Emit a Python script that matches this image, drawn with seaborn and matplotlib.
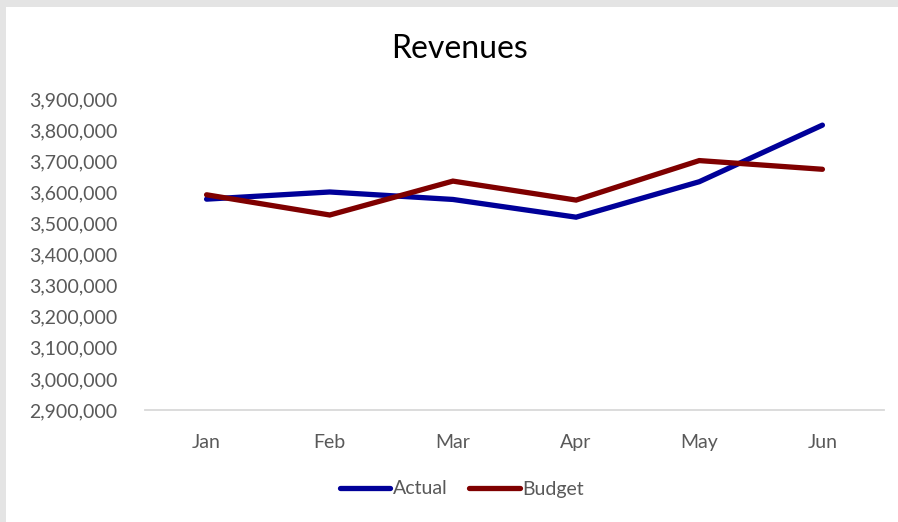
import matplotlib
matplotlib.use("Agg")
import matplotlib.pyplot as plt
from matplotlib.patches import Rectangle
from matplotlib.ticker import FuncFormatter, MultipleLocator
import seaborn as sns
import pandas as pd

months = ["Jan", "Feb", "Mar", "Apr", "May", "Jun"]
actual = [3578000, 3601000, 3577000, 3520000, 3634000, 3816000]
budget = [3592000, 3527000, 3636000, 3575000, 3702000, 3674000]

df = pd.DataFrame({
    "Month": months * 2,
    "Revenue": actual + budget,
    "Series": ["Actual"] * len(months) + ["Budget"] * len(months),
})

sns.set_theme(style="white")
plt.rcParams["font.family"] = ["Lato", "DejaVu Sans"]

fig = plt.figure(figsize=(8.98, 5.22), dpi=100)
fig.patch.set_facecolor("white")
W, H = 898, 522
# grey window frame along the top and left edges
fig.patches.append(Rectangle((0, 1 - 7 / H), 1, 7 / H, transform=fig.transFigure,
                             facecolor="#E4E4E4", edgecolor="none", zorder=0))
fig.patches.append(Rectangle((0, 0), 6 / W, 1, transform=fig.transFigure,
                             facecolor="#E4E4E4", edgecolor="none", zorder=0))

ax = fig.add_axes([145 / W, 1 - 410 / H, (884 - 145) / W, (410 - 99) / H])
palette = {"Actual": "#000099", "Budget": "#7F0000"}
sns.lineplot(data=df, x="Month", y="Revenue", hue="Series", palette=palette,
             linewidth=3.8, sort=False, ax=ax, legend=True)
for line in ax.get_lines():
    line.set_solid_capstyle("round")
    line.set_solid_joinstyle("miter")

ax.set_xlim(-0.5, len(months) - 0.5)
ax.set_ylim(2900000, 3900000)
ax.yaxis.set_major_locator(MultipleLocator(100000))
ax.yaxis.set_major_formatter(FuncFormatter(lambda v, p: f"{v:,.0f}"))
ax.set_xlabel("")
ax.set_ylabel("")
for side in ["top", "right", "left"]:
    ax.spines[side].set_visible(False)
ax.spines["bottom"].set_color("#D9D9D9")
ax.spines["bottom"].set_linewidth(1.3)
ax.tick_params(axis="both", length=0, colors="#595959", labelsize=14)
ax.tick_params(axis="y", pad=20)
ax.tick_params(axis="x", pad=17)

fig.text(459 / W, 1 - 49 / H, "Revenues", ha="center", va="center",
         fontsize=23, color="#000000")

handles, labels = ax.get_legend_handles_labels()
for h in handles:
    h.set_solid_capstyle("round")
ax.legend(handles, labels, loc="center", bbox_to_anchor=(462 / W, 1 - 489 / H),
          bbox_transform=fig.transFigure, ncol=2, frameon=False, fontsize=14,
          handlelength=2.6, handletextpad=0.15, columnspacing=1.1,
          labelcolor="#595959")

fig.savefig("out.png", dpi=100, facecolor=fig.get_facecolor())
